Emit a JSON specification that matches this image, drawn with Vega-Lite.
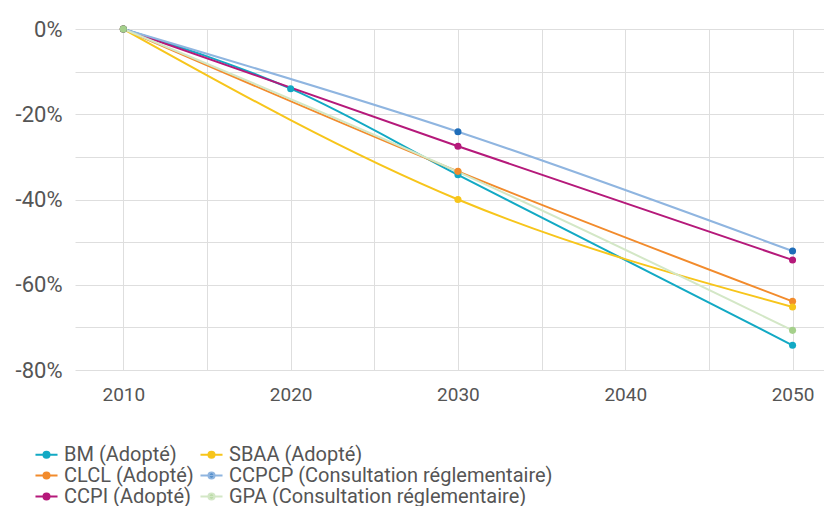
{
  "$schema": "https://vega.github.io/schema/vega-lite/v6.json",
  "autosize": {"type": "none"},
  "padding": {"left": 75, "top": 29, "right": 0, "bottom": 136},
  "width": 749,
  "height": 341,
  "background": "white",
  "config": {
    "view": {"stroke": null},
    "font": "Roboto",
    "axis": {"gridColor": "#DEDEDE", "gridWidth": 1, "domain": false, "ticks": false, "labelColor": "#555555", "labelFont": "Roboto", "title": null}
  },
  "data": {
    "values": [
      {"series": "BM (Adopté)", "year": 2010, "value": 0},
      {"series": "CLCL (Adopté)", "year": 2010, "value": 0},
      {"series": "CCPI (Adopté)", "year": 2010, "value": 0},
      {"series": "SBAA (Adopté)", "year": 2010, "value": 0},
      {"series": "CCPCP (Consultation réglementaire)", "year": 2010, "value": 0},
      {"series": "GPA (Consultation réglementaire)", "year": 2010, "value": 0},
      {"series": "BM (Adopté)", "year": 2020, "value": -14},
      {"series": "GPA (Consultation réglementaire)", "year": 2030, "value": -33.5},
      {"series": "BM (Adopté)", "year": 2030, "value": -34.2},
      {"series": "CLCL (Adopté)", "year": 2030, "value": -33.4},
      {"series": "CCPI (Adopté)", "year": 2030, "value": -27.5},
      {"series": "SBAA (Adopté)", "year": 2030, "value": -40},
      {"series": "CCPCP (Consultation réglementaire)", "year": 2030, "value": -24.1},
      {"series": "BM (Adopté)", "year": 2050, "value": -74.2},
      {"series": "CLCL (Adopté)", "year": 2050, "value": -63.9},
      {"series": "CCPI (Adopté)", "year": 2050, "value": -54.2},
      {"series": "SBAA (Adopté)", "year": 2050, "value": -65.2},
      {"series": "CCPCP (Consultation réglementaire)", "year": 2050, "value": -52.1},
      {"series": "GPA (Consultation réglementaire)", "year": 2050, "value": -70.7}
    ]
  },
  "encoding": {
    "x": {
      "field": "year", "type": "quantitative",
      "scale": {"domain": [2007.11, 2051.88], "nice": false, "zero": false},
      "axis": {
        "values": [2010, 2015, 2020, 2025, 2030, 2035, 2040, 2045, 2050],
        "labelExpr": "datum.value % 10 == 0 ? '' + datum.value : ''",
        "labelFontSize": 19, "labelPadding": 15, "grid": true
      }
    },
    "y": {
      "field": "value", "type": "quantitative",
      "scale": {"domain": [-80, 0], "nice": false},
      "axis": {
        "values": [-80, -70, -60, -50, -40, -30, -20, -10, 0],
        "labelExpr": "datum.value % 20 == 0 ? datum.value + '%' : ''",
        "labelFontSize": 22, "labelPadding": 13, "grid": true
      }
    }
  },
  "layer": [
    {
      "mark": {"type": "line", "interpolate": "monotone", "strokeWidth": 2},
      "encoding": {
        "stroke": {
          "field": "series", "type": "nominal",
          "scale": {
            "domain": ["BM (Adopté)", "SBAA (Adopté)", "CLCL (Adopté)", "CCPCP (Consultation réglementaire)", "CCPI (Adopté)", "GPA (Consultation réglementaire)"],
            "range": ["#12A9C4", "#F7C51B", "#F28B2C", "#8FB5E0", "#B5197A", "#D3E7C6"]
          },
          "legend": {
            "orient": "none", "legendX": -39, "legendY": 415, "columns": 2, "direction": "horizontal",
            "title": null, "padding": 0, "columnPadding": 2, "rowPadding": -2,
            "symbolType": "M-1.16,0L1.16,0M0.32,0A0.32,0.32,0,1,1,-0.32,0A0.32,0.32,0,1,1,0.32,0Z",
            "symbolSize": 361, "symbolStrokeWidth": 2, "labelOffset": 7,
            "labelFontSize": 20, "labelColor": "#555555", "labelFont": "Roboto", "labelLimit": 400,
            "encode": {"symbols": {"update": {"fill": {"scale": "fill", "field": "value"}, "fillOpacity": {"value": 1}}}}
          }
        }
      }
    },
    {
      "mark": {"type": "point", "filled": true, "size": 50, "opacity": 1},
      "encoding": {
        "fill": {
          "field": "series", "type": "nominal",
          "scale": {
            "domain": ["BM (Adopté)", "SBAA (Adopté)", "CLCL (Adopté)", "CCPCP (Consultation réglementaire)", "CCPI (Adopté)", "GPA (Consultation réglementaire)"],
            "range": ["#12A9C4", "#F7C51B", "#F28B2C", "#1F6DB9", "#B5197A", "#A5D08B"]
          },
          "legend": null
        }
      }
    }
  ]
}
